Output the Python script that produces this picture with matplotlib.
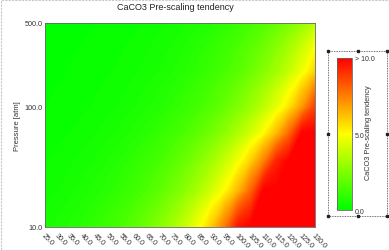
import numpy as np
import matplotlib
matplotlib.use("Agg")
import matplotlib.pyplot as plt
from matplotlib.colors import LinearSegmentedColormap, Normalize
from matplotlib.cm import ScalarMappable
from matplotlib.patches import Rectangle
from matplotlib.lines import Line2D

plt.rcParams['font.family'] = ['Liberation Sans', 'DejaVu Sans']

# ---- data ----
temperatures = [25, 30, 35, 40, 45, 50, 55, 60, 65, 70, 75, 80, 85, 90, 95,
                100, 105, 110, 115, 120, 125, 130]
pressures = [10, 20, 35, 60, 100, 200, 500]
tendency_p10 = [0.44, 0.53, 0.65, 0.79, 0.97, 1.19, 1.45, 1.77, 2.16, 2.64, 3.22,
                3.93, 4.80, 6.01, 7.55, 9.51, 10, 10, 10, 10, 10, 10]
tendency_p20 = [0.30, 0.37, 0.45, 0.55, 0.68, 0.83, 1.01, 1.23, 1.51, 1.84, 2.25,
                2.74, 3.35, 4.09, 5.00, 6.29, 7.92, 9.97, 10, 10, 10, 10]
tendency_p35 = [0.23, 0.29, 0.35, 0.43, 0.52, 0.64, 0.78, 0.95, 1.16, 1.42, 1.73,
                2.12, 2.58, 3.16, 3.86, 4.71, 5.87, 7.38, 9.29, 10, 10, 10]
tendency_p60 = [0.17, 0.20, 0.25, 0.30, 0.37, 0.45, 0.55, 0.68, 0.83, 1.01, 1.23,
                1.51, 1.84, 2.25, 2.74, 3.35, 4.09, 5.00, 6.29, 7.92, 9.97, 10]
tendency_p100 = [0.12, 0.15, 0.18, 0.22, 0.27, 0.33, 0.40, 0.49, 0.60, 0.73, 0.90,
                 1.09, 1.34, 1.63, 1.99, 2.43, 2.97, 3.63, 4.43, 5.48, 6.89, 8.66]
tendency_p200 = [0.08, 0.10, 0.13, 0.15, 0.19, 0.23, 0.28, 0.34, 0.42, 0.51, 0.62,
                 0.76, 0.93, 1.14, 1.39, 1.70, 2.07, 2.53, 3.09, 3.78, 4.61, 5.74]
tendency_p500 = [0.05, 0.06, 0.08, 0.10, 0.12, 0.14, 0.17, 0.21, 0.26, 0.32, 0.39,
                 0.47, 0.58, 0.70, 0.86, 1.05, 1.28, 1.57, 1.91, 2.34, 2.85, 3.49]
x_tick_labels = ["%.1f" % t for t in temperatures]
y_ticks = [10, 100, 500]
y_tick_labels = ["10.0", "100.0", "500.0"]
cbar_ticks = [0, 5, 10]
cbar_tick_labels = ["0.0", "5.0", "> 10.0"]

Z = np.array([tendency_p10, tendency_p20, tendency_p35, tendency_p60,
              tendency_p100, tendency_p200, tendency_p500])

cmap = LinearSegmentedColormap.from_list(
    "gyr", [(0.0, (0, 1, 0)), (0.5, (1, 1, 0)), (1.0, (1, 0, 0))])
norm = Normalize(0, 10)

W, H = 389, 251
fig = plt.figure(figsize=(W / 100, H / 100), dpi=100)
fig.patch.set_facecolor("white")

ax = fig.add_axes([45 / W, 1 - 228 / H, 270 / W, 204 / H])
cs = ax.contourf(temperatures, pressures, Z, levels=np.linspace(0, 10, 81),
                 cmap=cmap, norm=norm, extend="both")
cs.set_edgecolor("face")
cs.set_linewidth(0.3)
ax.set_yscale("log")
ax.set_xlim(25, 130)
ax.set_ylim(10, 500)
ax.set_xticks(temperatures)
ax.set_xticklabels(x_tick_labels, rotation=-45, ha="left", va="top",
                   rotation_mode="anchor", fontsize=5.2)
ax.set_yticks(y_ticks)
ax.set_yticklabels(y_tick_labels, fontsize=5.2)
ax.yaxis.set_minor_locator(matplotlib.ticker.NullLocator())
ax.tick_params(axis="both", length=0, pad=2, colors="#333333")
ax.tick_params(axis="x", pad=3)
for s in ax.spines.values():
    s.set_color("#666666")
    s.set_linewidth(0.6)
ax.set_ylabel("Pressure [atm]", fontsize=5.5, color="#333333", labelpad=2.5)

fig.text(175 / W, 1 - 7 / H, "CaCO3 Pre-scaling tendency", ha="center",
         va="center", fontsize=6.5, color="#222222")

# colorbar
cax = fig.add_axes([337 / W, 1 - 211 / H, 15 / W, 152 / H])
cb = fig.colorbar(ScalarMappable(norm=norm, cmap=cmap), cax=cax, ticks=cbar_ticks)
cb.ax.set_yticklabels(cbar_tick_labels, fontsize=5, color="#333333")
cb.ax.tick_params(length=0, pad=2)
cb.outline.set_edgecolor("#666666")
cb.outline.set_linewidth(0.6)
fig.text(369 / W, 1 - 133 / H, "CaCO3 Pre-scaling tendency", rotation=90,
         ha="center", va="center", fontsize=5.3, color="#333333")

# dotted selection box around legend
bx0, bx1, by0, by1 = 328, 387, 52, 217
fig.add_artist(Rectangle((bx0 / W, 1 - by1 / H), (bx1 - bx0) / W, (by1 - by0) / H,
                         transform=fig.transFigure, fill=False,
                         edgecolor="#444444", linewidth=0.6, linestyle=(0, (1, 1))))
hx = [bx0, (bx0 + bx1) / 2, bx1, bx0, bx1, bx0, (bx0 + bx1) / 2, bx1]
hy = [by0, by0, by0, (by0 + by1) / 2, (by0 + by1) / 2, by1, by1, by1]
fig.add_artist(Line2D([v / W for v in hx], [1 - v / H for v in hy],
                      transform=fig.transFigure, linestyle="none", marker="s",
                      markersize=1.5, color="#222222"))

# faint outer frame
fig.add_artist(Rectangle((0.5 / W, 0.5 / H), (W - 1) / W, (H - 1) / H,
                         transform=fig.transFigure, fill=False,
                         edgecolor="#c8c8d0", linewidth=0.8, linestyle=(0, (2, 1))))

fig.savefig("out.png", dpi=100, facecolor="white")
